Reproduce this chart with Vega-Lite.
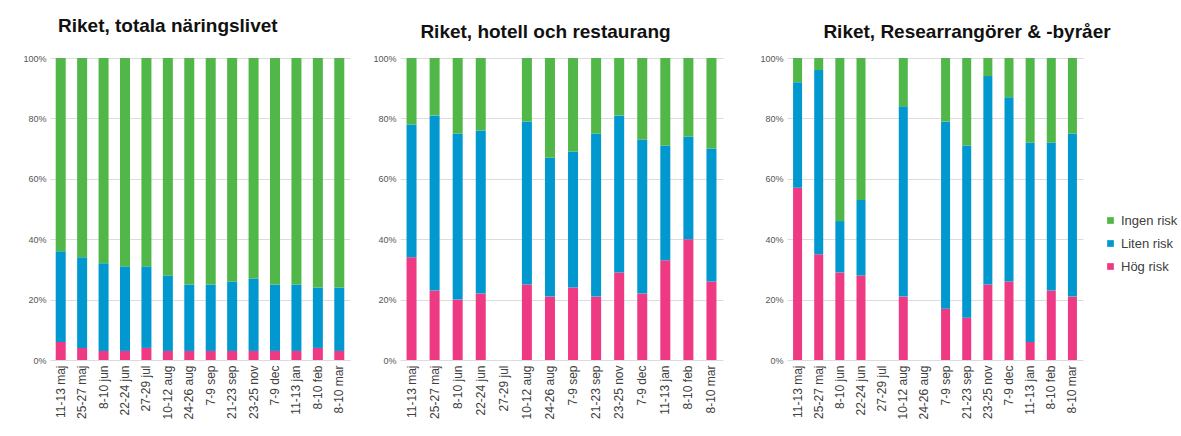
{
  "$schema": "https://vega.github.io/schema/vega-lite/v6.json",
  "padding": {"left": 20, "top": 17, "right": 0, "bottom": 0},
  "background": "white",
  "config": {
    "view": {"stroke": null},
    "font": "Liberation Sans",
    "title": {"font": "Liberation Sans", "fontSize": 19, "fontWeight": "bold", "color": "#111111"},
    "axisY": {"grid": true, "gridColor": "#dcdcdc", "domain": false, "ticks": false, "labelFontSize": 9, "labelColor": "#555555", "labelPadding": 4, "title": null},
    "axisX": {"grid": false, "domain": false, "ticks": false, "labelAngle": -90, "labelFontSize": 12, "labelColor": "#404040", "labelPadding": 5, "title": null},
    "concat": {"spacing": 20}
  },
  "data": {"values": [
    {"panel": 1, "period": "11-13 maj", "risk": "Hög risk", "share": 6},
    {"panel": 1, "period": "11-13 maj", "risk": "Liten risk", "share": 30},
    {"panel": 1, "period": "11-13 maj", "risk": "Ingen risk", "share": 64},
    {"panel": 1, "period": "25-27 maj", "risk": "Hög risk", "share": 4},
    {"panel": 1, "period": "25-27 maj", "risk": "Liten risk", "share": 30},
    {"panel": 1, "period": "25-27 maj", "risk": "Ingen risk", "share": 66},
    {"panel": 1, "period": "8-10 jun", "risk": "Hög risk", "share": 3},
    {"panel": 1, "period": "8-10 jun", "risk": "Liten risk", "share": 29},
    {"panel": 1, "period": "8-10 jun", "risk": "Ingen risk", "share": 68},
    {"panel": 1, "period": "22-24 jun", "risk": "Hög risk", "share": 3},
    {"panel": 1, "period": "22-24 jun", "risk": "Liten risk", "share": 28},
    {"panel": 1, "period": "22-24 jun", "risk": "Ingen risk", "share": 69},
    {"panel": 1, "period": "27-29 jul", "risk": "Hög risk", "share": 4},
    {"panel": 1, "period": "27-29 jul", "risk": "Liten risk", "share": 27},
    {"panel": 1, "period": "27-29 jul", "risk": "Ingen risk", "share": 69},
    {"panel": 1, "period": "10-12 aug", "risk": "Hög risk", "share": 3},
    {"panel": 1, "period": "10-12 aug", "risk": "Liten risk", "share": 25},
    {"panel": 1, "period": "10-12 aug", "risk": "Ingen risk", "share": 72},
    {"panel": 1, "period": "24-26 aug", "risk": "Hög risk", "share": 3},
    {"panel": 1, "period": "24-26 aug", "risk": "Liten risk", "share": 22},
    {"panel": 1, "period": "24-26 aug", "risk": "Ingen risk", "share": 75},
    {"panel": 1, "period": "7-9 sep", "risk": "Hög risk", "share": 3},
    {"panel": 1, "period": "7-9 sep", "risk": "Liten risk", "share": 22},
    {"panel": 1, "period": "7-9 sep", "risk": "Ingen risk", "share": 75},
    {"panel": 1, "period": "21-23 sep", "risk": "Hög risk", "share": 3},
    {"panel": 1, "period": "21-23 sep", "risk": "Liten risk", "share": 23},
    {"panel": 1, "period": "21-23 sep", "risk": "Ingen risk", "share": 74},
    {"panel": 1, "period": "23-25 nov", "risk": "Hög risk", "share": 3},
    {"panel": 1, "period": "23-25 nov", "risk": "Liten risk", "share": 24},
    {"panel": 1, "period": "23-25 nov", "risk": "Ingen risk", "share": 73},
    {"panel": 1, "period": "7-9 dec", "risk": "Hög risk", "share": 3},
    {"panel": 1, "period": "7-9 dec", "risk": "Liten risk", "share": 22},
    {"panel": 1, "period": "7-9 dec", "risk": "Ingen risk", "share": 75},
    {"panel": 1, "period": "11-13 jan", "risk": "Hög risk", "share": 3},
    {"panel": 1, "period": "11-13 jan", "risk": "Liten risk", "share": 22},
    {"panel": 1, "period": "11-13 jan", "risk": "Ingen risk", "share": 75},
    {"panel": 1, "period": "8-10 feb", "risk": "Hög risk", "share": 4},
    {"panel": 1, "period": "8-10 feb", "risk": "Liten risk", "share": 20},
    {"panel": 1, "period": "8-10 feb", "risk": "Ingen risk", "share": 76},
    {"panel": 1, "period": "8-10 mar", "risk": "Hög risk", "share": 3},
    {"panel": 1, "period": "8-10 mar", "risk": "Liten risk", "share": 21},
    {"panel": 1, "period": "8-10 mar", "risk": "Ingen risk", "share": 76},

    {"panel": 2, "period": "11-13 maj", "risk": "Hög risk", "share": 34},
    {"panel": 2, "period": "11-13 maj", "risk": "Liten risk", "share": 44},
    {"panel": 2, "period": "11-13 maj", "risk": "Ingen risk", "share": 22},
    {"panel": 2, "period": "25-27 maj", "risk": "Hög risk", "share": 23},
    {"panel": 2, "period": "25-27 maj", "risk": "Liten risk", "share": 58},
    {"panel": 2, "period": "25-27 maj", "risk": "Ingen risk", "share": 19},
    {"panel": 2, "period": "8-10 jun", "risk": "Hög risk", "share": 20},
    {"panel": 2, "period": "8-10 jun", "risk": "Liten risk", "share": 55},
    {"panel": 2, "period": "8-10 jun", "risk": "Ingen risk", "share": 25},
    {"panel": 2, "period": "22-24 jun", "risk": "Hög risk", "share": 22},
    {"panel": 2, "period": "22-24 jun", "risk": "Liten risk", "share": 54},
    {"panel": 2, "period": "22-24 jun", "risk": "Ingen risk", "share": 24},
    {"panel": 2, "period": "10-12 aug", "risk": "Hög risk", "share": 25},
    {"panel": 2, "period": "10-12 aug", "risk": "Liten risk", "share": 54},
    {"panel": 2, "period": "10-12 aug", "risk": "Ingen risk", "share": 21},
    {"panel": 2, "period": "24-26 aug", "risk": "Hög risk", "share": 21},
    {"panel": 2, "period": "24-26 aug", "risk": "Liten risk", "share": 46},
    {"panel": 2, "period": "24-26 aug", "risk": "Ingen risk", "share": 33},
    {"panel": 2, "period": "7-9 sep", "risk": "Hög risk", "share": 24},
    {"panel": 2, "period": "7-9 sep", "risk": "Liten risk", "share": 45},
    {"panel": 2, "period": "7-9 sep", "risk": "Ingen risk", "share": 31},
    {"panel": 2, "period": "21-23 sep", "risk": "Hög risk", "share": 21},
    {"panel": 2, "period": "21-23 sep", "risk": "Liten risk", "share": 54},
    {"panel": 2, "period": "21-23 sep", "risk": "Ingen risk", "share": 25},
    {"panel": 2, "period": "23-25 nov", "risk": "Hög risk", "share": 29},
    {"panel": 2, "period": "23-25 nov", "risk": "Liten risk", "share": 52},
    {"panel": 2, "period": "23-25 nov", "risk": "Ingen risk", "share": 19},
    {"panel": 2, "period": "7-9 dec", "risk": "Hög risk", "share": 22},
    {"panel": 2, "period": "7-9 dec", "risk": "Liten risk", "share": 51},
    {"panel": 2, "period": "7-9 dec", "risk": "Ingen risk", "share": 27},
    {"panel": 2, "period": "11-13 jan", "risk": "Hög risk", "share": 33},
    {"panel": 2, "period": "11-13 jan", "risk": "Liten risk", "share": 38},
    {"panel": 2, "period": "11-13 jan", "risk": "Ingen risk", "share": 29},
    {"panel": 2, "period": "8-10 feb", "risk": "Hög risk", "share": 40},
    {"panel": 2, "period": "8-10 feb", "risk": "Liten risk", "share": 34},
    {"panel": 2, "period": "8-10 feb", "risk": "Ingen risk", "share": 26},
    {"panel": 2, "period": "8-10 mar", "risk": "Hög risk", "share": 26},
    {"panel": 2, "period": "8-10 mar", "risk": "Liten risk", "share": 44},
    {"panel": 2, "period": "8-10 mar", "risk": "Ingen risk", "share": 30},

    {"panel": 3, "period": "11-13 maj", "risk": "Hög risk", "share": 57},
    {"panel": 3, "period": "11-13 maj", "risk": "Liten risk", "share": 35},
    {"panel": 3, "period": "11-13 maj", "risk": "Ingen risk", "share": 8},
    {"panel": 3, "period": "25-27 maj", "risk": "Hög risk", "share": 35},
    {"panel": 3, "period": "25-27 maj", "risk": "Liten risk", "share": 61},
    {"panel": 3, "period": "25-27 maj", "risk": "Ingen risk", "share": 4},
    {"panel": 3, "period": "8-10 jun", "risk": "Hög risk", "share": 29},
    {"panel": 3, "period": "8-10 jun", "risk": "Liten risk", "share": 17},
    {"panel": 3, "period": "8-10 jun", "risk": "Ingen risk", "share": 54},
    {"panel": 3, "period": "22-24 jun", "risk": "Hög risk", "share": 28},
    {"panel": 3, "period": "22-24 jun", "risk": "Liten risk", "share": 25},
    {"panel": 3, "period": "22-24 jun", "risk": "Ingen risk", "share": 47},
    {"panel": 3, "period": "10-12 aug", "risk": "Hög risk", "share": 21},
    {"panel": 3, "period": "10-12 aug", "risk": "Liten risk", "share": 63},
    {"panel": 3, "period": "10-12 aug", "risk": "Ingen risk", "share": 16},
    {"panel": 3, "period": "7-9 sep", "risk": "Hög risk", "share": 17},
    {"panel": 3, "period": "7-9 sep", "risk": "Liten risk", "share": 62},
    {"panel": 3, "period": "7-9 sep", "risk": "Ingen risk", "share": 21},
    {"panel": 3, "period": "21-23 sep", "risk": "Hög risk", "share": 14},
    {"panel": 3, "period": "21-23 sep", "risk": "Liten risk", "share": 57},
    {"panel": 3, "period": "21-23 sep", "risk": "Ingen risk", "share": 29},
    {"panel": 3, "period": "23-25 nov", "risk": "Hög risk", "share": 25},
    {"panel": 3, "period": "23-25 nov", "risk": "Liten risk", "share": 69},
    {"panel": 3, "period": "23-25 nov", "risk": "Ingen risk", "share": 6},
    {"panel": 3, "period": "7-9 dec", "risk": "Hög risk", "share": 26},
    {"panel": 3, "period": "7-9 dec", "risk": "Liten risk", "share": 61},
    {"panel": 3, "period": "7-9 dec", "risk": "Ingen risk", "share": 13},
    {"panel": 3, "period": "11-13 jan", "risk": "Hög risk", "share": 6},
    {"panel": 3, "period": "11-13 jan", "risk": "Liten risk", "share": 66},
    {"panel": 3, "period": "11-13 jan", "risk": "Ingen risk", "share": 28},
    {"panel": 3, "period": "8-10 feb", "risk": "Hög risk", "share": 23},
    {"panel": 3, "period": "8-10 feb", "risk": "Liten risk", "share": 49},
    {"panel": 3, "period": "8-10 feb", "risk": "Ingen risk", "share": 28},
    {"panel": 3, "period": "8-10 mar", "risk": "Hög risk", "share": 21},
    {"panel": 3, "period": "8-10 mar", "risk": "Liten risk", "share": 54},
    {"panel": 3, "period": "8-10 mar", "risk": "Ingen risk", "share": 25}
  ]},
  "transform": [{"calculate": "indexof(['Hög risk', 'Liten risk', 'Ingen risk'], datum.risk)", "as": "stackOrder"}],
  "hconcat": [
    {
      "title": {"text": "Riket, totala näringslivet", "anchor": "start", "dx": 38, "offset": 18},
      "width": 300, "height": 302,
      "transform": [{"filter": "datum.panel == 1"}],
      "mark": {"type": "bar", "size": 10},
      "encoding": {
        "x": {"field": "period", "type": "nominal", "scale": {"domain": ["11-13 maj","25-27 maj","8-10 jun","22-24 jun","27-29 jul","10-12 aug","24-26 aug","7-9 sep","21-23 sep","23-25 nov","7-9 dec","11-13 jan","8-10 feb","8-10 mar"]}},
        "y": {"field": "share", "type": "quantitative", "stack": "normalize", "axis": {"format": ".0%", "values": [0, 0.2, 0.4, 0.6, 0.8, 1], "minExtent": 30, "maxExtent": 30}},
        "order": {"field": "stackOrder", "type": "quantitative", "sort": "ascending"},
        "color": {"field": "risk", "type": "nominal", "scale": {"domain": ["Hög risk", "Liten risk", "Ingen risk"], "range": ["#ee3a82", "#0098cf", "#50b748"]}, "legend": null}
      }
    },
    {
      "title": {"text": "Riket, hotell och restaurang", "anchor": "middle", "dx": -16, "offset": 12},
      "width": 323, "height": 302,
      "transform": [{"filter": "datum.panel == 2"}],
      "mark": {"type": "bar", "size": 10},
      "encoding": {
        "x": {"field": "period", "type": "nominal", "scale": {"domain": ["11-13 maj","25-27 maj","8-10 jun","22-24 jun","27-29 jul","10-12 aug","24-26 aug","7-9 sep","21-23 sep","23-25 nov","7-9 dec","11-13 jan","8-10 feb","8-10 mar"]}},
        "y": {"field": "share", "type": "quantitative", "stack": "normalize", "axis": {"format": ".0%", "values": [0, 0.2, 0.4, 0.6, 0.8, 1], "minExtent": 30, "maxExtent": 30}},
        "order": {"field": "stackOrder", "type": "quantitative", "sort": "ascending"},
        "color": {"field": "risk", "type": "nominal", "scale": {"domain": ["Hög risk", "Liten risk", "Ingen risk"], "range": ["#ee3a82", "#0098cf", "#50b748"]}, "legend": null}
      }
    },
    {
      "title": {"text": "Riket, Researrangörer & -byråer", "anchor": "middle", "dx": 32, "offset": 12},
      "width": 296, "height": 302,
      "transform": [{"filter": "datum.panel == 3"}],
      "mark": {"type": "bar", "size": 9},
      "encoding": {
        "x": {"field": "period", "type": "nominal", "scale": {"domain": ["11-13 maj","25-27 maj","8-10 jun","22-24 jun","27-29 jul","10-12 aug","24-26 aug","7-9 sep","21-23 sep","23-25 nov","7-9 dec","11-13 jan","8-10 feb","8-10 mar"]}},
        "y": {"field": "share", "type": "quantitative", "stack": "normalize", "axis": {"format": ".0%", "values": [0, 0.2, 0.4, 0.6, 0.8, 1], "minExtent": 44, "maxExtent": 44}},
        "order": {"field": "stackOrder", "type": "quantitative", "sort": "ascending"},
        "color": {"field": "risk", "type": "nominal", "scale": {"domain": ["Hög risk", "Liten risk", "Ingen risk"], "range": ["#ee3a82", "#0098cf", "#50b748"]},
          "legend": {"title": null, "values": ["Ingen risk", "Liten risk", "Hög risk"], "orient": "none", "legendX": 317, "legendY": 156, "symbolType": "square", "symbolSize": 45, "symbolStrokeWidth": 0, "labelFontSize": 13, "labelColor": "#404040", "rowPadding": 9, "padding": 0}}
      }
    }
  ],
  "resolve": {"legend": {"color": "independent"}}
}
